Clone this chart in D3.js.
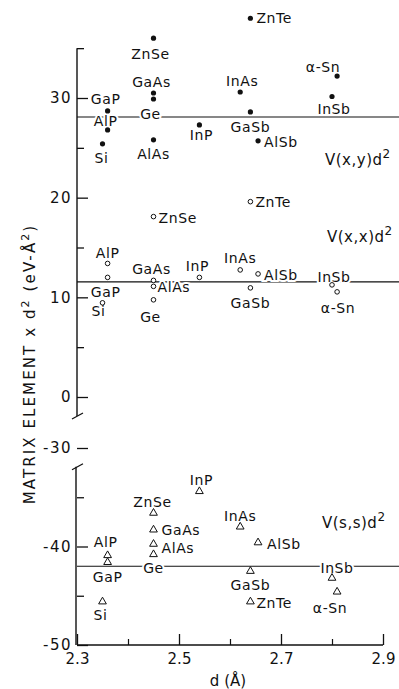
<!DOCTYPE html>
<html>
<head>
<meta charset="utf-8">
<script src="https://cdn.jsdelivr.net/npm/d3@7"></script>
<style>
  body { margin: 0; background: #fff; }
  svg text { font-family: "DejaVu Sans", sans-serif; fill: #111; }
</style>
</head>
<body>
<svg id="chart" width="399" height="689"></svg>
<script>
// Tetrahedral semiconductors and their bond length d (Å)
const compounds  = ["Si", "AlP", "GaP", "Ge", "GaAs", "AlAs", "ZnSe", "InP", "InAs", "GaSb", "AlSb", "ZnTe", "InSb", "α-Sn"];
const bondLength = [2.35, 2.36, 2.36, 2.45, 2.45, 2.45, 2.45, 2.54, 2.62, 2.64, 2.655, 2.64, 2.80, 2.81];

// Matrix elements times d² (eV·Å²)
const vxy = [25.4, 26.8, 28.7, 29.9, 30.5, 25.8, 36.0, 27.3, 30.6, 28.6, 25.7, 38.0, 30.15, 32.2];
const vxx = [9.45, 13.4, 12.0, 9.75, 11.7, 11.1, 18.1, 12.0, 12.75, 10.95, 12.35, 19.6, 11.25, 10.55];
const vss = [-45.6, -40.9, -41.6, -40.8, -38.3, -39.75, -36.6, -34.4, -38.0, -42.5, -39.6, -45.6, -43.2, -44.6];

// Universal (average) values drawn as horizontal lines
const fitXY = 28.1;
const fitXX = 11.55;
const fitSS = -42.0;

// Axis ticks
const xTicks = [2.3, 2.5, 2.7, 2.9];
const xMinorTicks = [2.4, 2.6, 2.8];
const upperTicks = [0, 10, 20, 30];
const upperMinorTicks = [5, 15, 25, 35];
const lowerTicks = [-50, -40, -30];
const lowerMinorTicks = [-45, -35];

// Label placement per series, in compound order: [dx, dy, anchor]
const placeXY = [[-1,19,"m"],[-2,-4,"m"],[-2,-7,"m"],[-3,20,"m"],[-2,-6,"m"],[0,19,"m"],[-3,21,"m"],
                 [2,15,"m"],[2,-6,"m"],[0,20,"m"],[6,6,"s"],[6,5,"s"],[2,17,"m"],[-14,-4,"m"]];
const placeXX = [[-4,13,"m"],[0,-5,"m"],[-2,20,"m"],[-3,22,"m"],[-2,-6,"m"],[4,6,"s"],[5,6,"s"],
                 [-2,-6,"m"],[0,-7,"m"],[0,20,"m"],[6,6,"s"],[5,5,"s"],[2,-3,"m"],[1,21,"m"]];
const placeSS = [[-2,18,"m"],[-2,-8,"m"],[0,20,"m"],[0,19,"m"],[8,5,"s"],[8,8.5,"s"],[-1,-6,"m"],
                 [2,-6,"m"],[0,-6,"m"],[0,19,"m"],[9,6,"s"],[6,6,"s"],[5,-5,"m"],[-7,21,"m"]];

const svg = d3.select("#chart");
const FONT = 15;
const LABEL_FONT = 14;

const x = d3.scaleLinear().domain([2.3, 2.9]).range([77, 383]);
const yUp = d3.scaleLinear().domain([0, 30]).range([397, 98]);
const yLo = d3.scaleLinear().domain([-50, -30]).range([645, 448]);
const axisX = x(2.3);
const baseY = yLo(-50);
const rightEdge = 399;

const fmt = d => d < 0 ? "-" + Math.abs(d) : String(d);

// ---- Y axis, upper segment (0 … 35) ----
svg.append("line").attr("x1", axisX).attr("x2", axisX)
  .attr("y1", yUp(35)).attr("y2", yUp(-1.9))
  .attr("stroke", "#111").attr("stroke-width", 1.4);
// ---- Y axis, lower segment (-50 … -32) ----
svg.append("line").attr("x1", axisX - 1).attr("x2", axisX - 1)
  .attr("y1", yLo(-31.9)).attr("y2", baseY)
  .attr("stroke", "#111").attr("stroke-width", 1.4);
// break marks
[yUp(-1.9), yLo(-31.9)].forEach(yy => {
  svg.append("line").attr("x1", axisX - 5).attr("y1", yy + 3)
    .attr("x2", axisX + 6).attr("y2", yy - 3)
    .attr("stroke", "#111").attr("stroke-width", 1.2);
});

function yAxis(scale, ticks, minor) {
  const g = svg.append("g").attr("transform", `translate(${axisX},0)`);
  g.call(d3.axisLeft(scale).tickValues(ticks).tickFormat(fmt).tickSize(-11).tickPadding(5));
  g.select(".domain").remove();
  g.selectAll(".tick line").attr("stroke", "#111").attr("stroke-width", 1.3);
  g.selectAll(".tick text").attr("font-size", FONT).attr("letter-spacing", 1.5)
    .attr("font-family", "DejaVu Sans").attr("fill", "#111");
  const m = svg.append("g").attr("transform", `translate(${axisX},0)`);
  m.call(d3.axisLeft(scale).tickValues(minor).tickFormat("").tickSize(-7));
  m.select(".domain").remove();
  m.selectAll(".tick line").attr("stroke", "#111").attr("stroke-width", 1.3);
}
yAxis(yUp, upperTicks, upperMinorTicks);
yAxis(yLo, lowerTicks, lowerMinorTicks);

// ---- X axis ----
const gx = svg.append("g").attr("transform", `translate(0,${baseY})`);
gx.call(d3.axisBottom(x).tickValues(xTicks).tickFormat(d3.format(".1f")).tickSize(-11).tickPadding(8));
gx.select(".domain").attr("d", `M${x(2.3)},0H${x(2.9)}`).attr("stroke", "#111").attr("stroke-width", 1.3);
gx.selectAll(".tick line").attr("stroke", "#111").attr("stroke-width", 1.3);
gx.selectAll(".tick text").attr("font-size", FONT).attr("font-family", "DejaVu Sans").attr("fill", "#111");
const gxm = svg.append("g").attr("transform", `translate(0,${baseY})`);
gxm.call(d3.axisBottom(x).tickValues(xMinorTicks).tickFormat("").tickSize(-6));
gxm.select(".domain").remove();
gxm.selectAll(".tick line").attr("stroke", "#111").attr("stroke-width", 1.2);

// ---- axis titles ----
const yTitle = svg.append("text")
  .attr("transform", "translate(35,364) rotate(-90)")
  .attr("text-anchor", "middle").attr("font-size", FONT).attr("letter-spacing", 2.1);
yTitle.append("tspan").text("MATRIX ELEMENT x d");
yTitle.append("tspan").attr("dy", -6).attr("font-size", 11).text("2");
yTitle.append("tspan").attr("dy", 6).text(" (eV-Å");
yTitle.append("tspan").attr("dy", -6).attr("font-size", 11).text("2");
yTitle.append("tspan").attr("dy", 6).text(")");

svg.append("text").attr("x", 228).attr("y", 686).attr("text-anchor", "middle")
  .attr("font-size", FONT).text("d (Å)");

// ---- average lines ----
[yUp(fitXY), yUp(fitXX), yLo(fitSS)].forEach(yy => {
  svg.append("line").attr("x1", axisX).attr("x2", rightEdge)
    .attr("y1", yy).attr("y2", yy).attr("stroke", "#111").attr("stroke-width", 1.1);
});

// ---- series ----
const series = [
  { vals: vxy, y: yUp, place: placeXY, mark: "dot",      title: "V(x,y)d", tx: 325, ty: 165 },
  { vals: vxx, y: yUp, place: placeXX, mark: "circle",   title: "V(x,x)d", tx: 327, ty: 242 },
  { vals: vss, y: yLo, place: placeSS, mark: "triangle", title: "V(s,s)d", tx: 322, ty: 528 }
];

const labelLayer = svg.append("g");
const markLayer = svg.append("g");
const triangle = d3.symbol().type(d3.symbolTriangle).size(26);

series.forEach(s => {
  const pts = compounds.map((c, i) => ({ name: c, px: x(bondLength[i]), py: s.y(s.vals[i]), pl: s.place[i] }));

  labelLayer.selectAll(null).data(pts).join("text")
    .attr("x", d => d.px + d.pl[0]).attr("y", d => d.py + d.pl[1])
    .attr("text-anchor", d => d.pl[2] === "s" ? "start" : "middle")
    .attr("font-size", LABEL_FONT).attr("letter-spacing", 0.6)
    .attr("stroke", "#fff").attr("stroke-width", 4).attr("paint-order", "stroke")
    .text(d => d.name);

  if (s.mark === "dot") {
    markLayer.selectAll(null).data(pts).join("circle")
      .attr("cx", d => d.px).attr("cy", d => d.py).attr("r", 2.6).attr("fill", "#111");
  } else if (s.mark === "circle") {
    markLayer.selectAll(null).data(pts).join("circle")
      .attr("cx", d => d.px).attr("cy", d => d.py).attr("r", 2.3)
      .attr("fill", "#fff").attr("stroke", "#111").attr("stroke-width", 1);
  } else {
    markLayer.selectAll(null).data(pts).join("path")
      .attr("d", triangle).attr("transform", d => `translate(${d.px},${d.py})`)
      .attr("fill", "#fff").attr("stroke", "#111").attr("stroke-width", 1);
  }

  const t = svg.append("text").attr("x", s.tx).attr("y", s.ty).attr("font-size", FONT).attr("letter-spacing", 0.5);
  t.append("tspan").text(s.title);
  t.append("tspan").attr("dy", -7).attr("font-size", 12).text("2");
});
</script>
</body>
</html>
